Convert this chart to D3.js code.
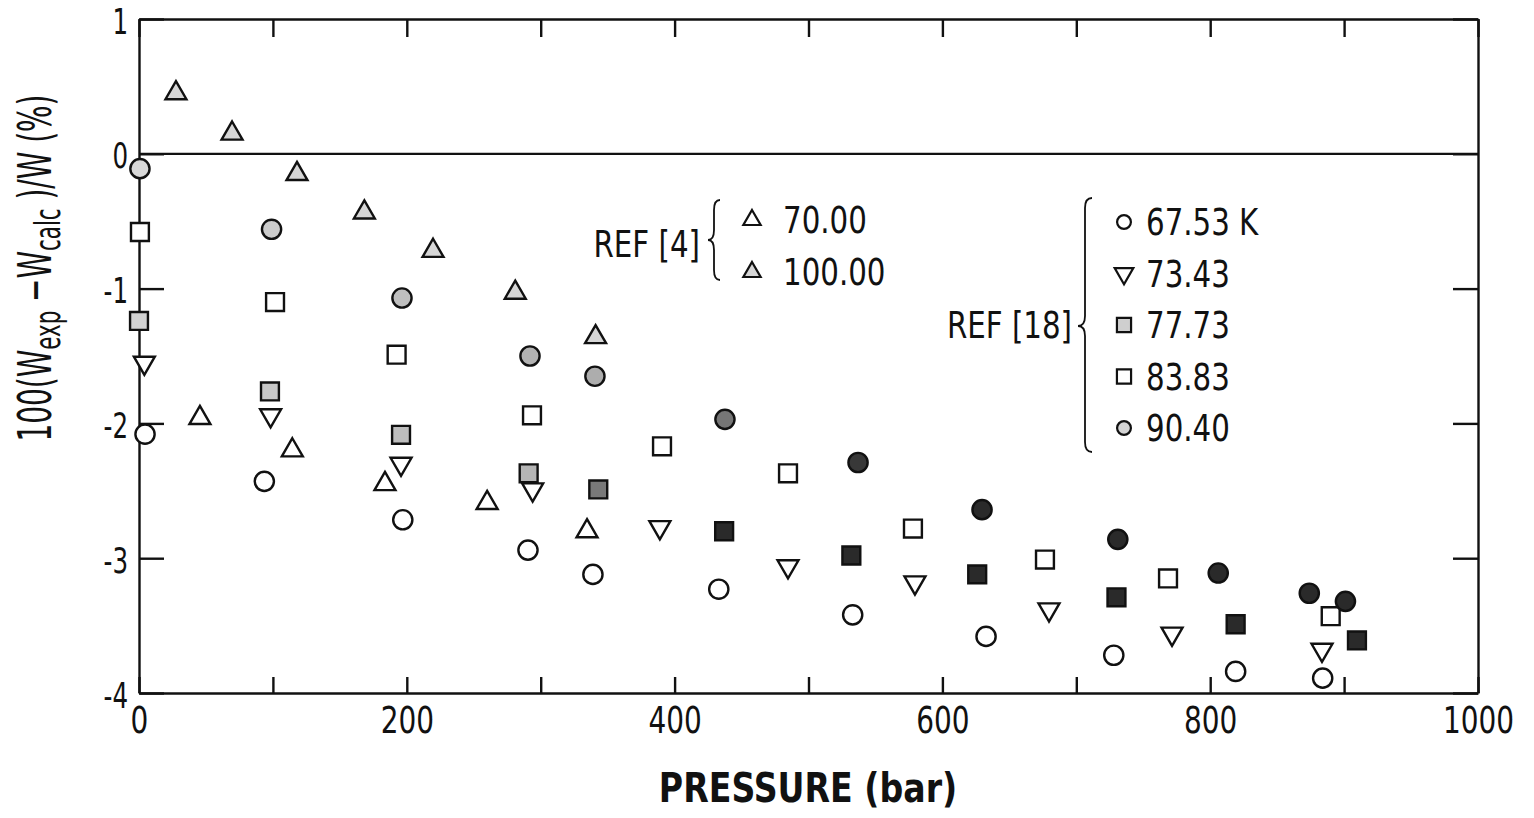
<!DOCTYPE html>
<html>
<head>
<meta charset="utf-8">
<script src="https://cdn.jsdelivr.net/npm/d3@7"></script>
<style>
  body { margin: 0; background: #fff; }
  text { font-family: "Liberation Sans Narrow", "DejaVu Sans Condensed", "Arial Narrow", sans-serif; fill: #111; }
</style>
</head>
<body>
<div id="chart"></div>
<script>
// Values: [pressure (bar), 100(Wexp - Wcalc)/W (%)]
const ref4_70 = [[45.5, -1.96], [114.5, -2.20], [183.7, -2.45], [260, -2.59], [334.6, -2.80]];
const ref4_100 = [[27.6, 0.45], [69.5, 0.15], [118, -0.15], [168.3, -0.435], [219.6, -0.72], [281, -1.03], [341, -1.36]];
const ref18_6753 = [[4.5, -2.08], [93.6, -2.43], [197, -2.715], [290.5, -2.94], [339, -3.12], [433, -3.23],
                    [533, -3.42], [632.6, -3.58], [728, -3.72], [819, -3.84], [884, -3.89]];
const ref18_7343 = [[4, -1.55], [98.3, -1.94], [195.7, -2.30], [294, -2.49], [389, -2.77], [484.7, -3.06],
                    [579.5, -3.18], [679.6, -3.38], [771.5, -3.56], [883.5, -3.68]];
const ref18_7773 = [[0, -1.24], [97.8, -1.763], [195.7, -2.085], [291, -2.37], [343, -2.49], [437, -2.80],
                    [532, -2.98], [626, -3.12], [730, -3.29], [819, -3.49], [909.6, -3.61]];
const ref18_8383 = [[0.7, -0.58], [101.6, -1.10], [192.4, -1.49], [293.5, -1.94], [390.6, -2.17], [484.7, -2.37],
                    [578, -2.78], [676.6, -3.01], [768.5, -3.15], [890, -3.43]];
const ref18_9040 = [[0.7, -0.11], [99, -0.56], [196.4, -1.07], [292, -1.50], [340.5, -1.65], [437.6, -1.97],
                    [537, -2.29], [629.6, -2.64], [731, -2.86], [806, -3.11], [874, -3.26], [901, -3.32]];

const ref4Labels = ["70.00", "100.00"];
const ref18Labels = ["67.53 K", "73.43", "77.73", "83.83", "90.40"];

const xMinorTicks = [0, 100, 200, 300, 400, 500, 600, 700, 800, 900, 1000];
const xTickLabels = [0, 200, 400, 600, 800, 1000];
const yTicks = [1, 0, -1, -2, -3, -4];

const W = 1534, H = 818;
const margin = {left: 139, right: 1478, top: 19, bottom: 693};

const svg = d3.select("#chart").append("svg")
    .attr("width", W)
    .attr("height", H);

const x = d3.scaleLinear().domain([0, 1000]).range([margin.left, margin.right]);
const y = d3.scaleLinear().domain([-4, 1]).range([margin.bottom, margin.top]);

const ink = "#111";

// the original uses a very narrow typeface, so texts are squeezed sideways
function narrowText(px, py, k, size) {
  return svg.append("text")
    .attr("transform", `translate(${px},${py}) scale(${k},1)`)
    .style("font-size", size + "px");
}

// axes with inward ticks
const xAxis = svg.append("g")
    .attr("transform", `translate(0,${margin.bottom})`)
    .call(d3.axisBottom(x)
        .tickValues(xMinorTicks)
        .tickFormat(d => xTickLabels.includes(d) ? d : "")
        .tickSizeInner(-16)
        .tickSizeOuter(0)
        .tickPadding(14));
xAxis.selectAll("text")
    .style("font-size", "37px")
    .attr("transform", "scale(0.84,1)");

svg.append("g")
    .attr("transform", `translate(0,${margin.top})`)
    .call(d3.axisTop(x).tickValues(xMinorTicks).tickFormat("").tickSizeInner(-18).tickSizeOuter(0));

const yK = 0.78;
const yAxis = svg.append("g")
    .attr("transform", `translate(${margin.left},0)`)
    .call(d3.axisLeft(y)
        .tickValues(yTicks)
        .tickFormat(d => d)
        .tickSizeInner(-25)
        .tickSizeOuter(0));
yAxis.selectAll("text")
    .style("font-size", "35px")
    .attr("dy", "0.4em")
    .attr("x", -11 / yK)
    .attr("transform", `scale(${yK},1)`);

svg.append("g")
    .attr("transform", `translate(${margin.right},0)`)
    .call(d3.axisRight(y).tickValues(yTicks).tickFormat("").tickSizeInner(-25).tickSizeOuter(0));

svg.selectAll(".domain, .tick line")
    .attr("stroke", ink)
    .attr("stroke-width", 2.4);

// zero line
svg.append("line")
    .attr("x1", x(0)).attr("x2", x(1000))
    .attr("y1", y(0)).attr("y2", y(0))
    .attr("stroke", ink)
    .attr("stroke-width", 2.2);

// axis titles
narrowText(808, 802, 0.9, 41)
    .attr("text-anchor", "middle")
    .style("font-weight", "bold")
    .text("PRESSURE (bar)");

const yTitle = svg.append("text")
    .attr("transform", "translate(51,268) rotate(-90) scale(0.66,1)")
    .attr("text-anchor", "middle")
    .style("font-size", "47px");
yTitle.append("tspan").text("100(W");
yTitle.append("tspan").attr("dy", 9).style("font-size", "36px").text("exp");
yTitle.append("tspan").attr("dy", -9).text(" \u2212W");
yTitle.append("tspan").attr("dy", 9).style("font-size", "36px").text("calc");
yTitle.append("tspan").attr("dy", -9).text(" )/W (%)");

// shading of the stippled symbols darkens with pressure
const squareShade = d3.scaleLinear()
    .domain([0, 300, 400])
    .range(["#d2d2d2", "#b4b4b4", "#2a2a2a"])
    .clamp(true);
const circleShade = d3.scaleLinear()
    .domain([0, 350, 560])
    .range(["#d8d8d8", "#acacac", "#2a2a2a"])
    .clamp(true);

const shapes = {
  circle: d3.symbolCircle,
  square: d3.symbolSquare,
  triangle: d3.symbolTriangle,
  down: d3.symbolTriangle
};

function drawSeries(data, shape, size, fill) {
  svg.append("g").selectAll("path")
    .data(data)
    .join("path")
    .attr("d", d3.symbol().type(shapes[shape]).size(size))
    .attr("transform", d => `translate(${x(d[0])},${y(d[1])})` + (shape === "down" ? " rotate(180)" : ""))
    .attr("fill", fill)
    .attr("stroke", ink)
    .attr("stroke-width", 2.4);
}

drawSeries(ref4_70, "triangle", 190, "#fff");
drawSeries(ref4_100, "triangle", 190, "#d6d6d6");
drawSeries(ref18_6753, "circle", 290, "#fff");
drawSeries(ref18_7343, "down", 190, "#fff");
drawSeries(ref18_7773, "square", 320, d => squareShade(d[0]));
drawSeries(ref18_8383, "square", 320, "#fff");
drawSeries(ref18_9040, "circle", 290, d => circleShade(d[0]));

// legends with braces
function brace(bx, y1, y2, ym, w) {
  const r = 10;
  return `M${bx},${y1} Q${bx - w / 2},${y1} ${bx - w / 2},${y1 + r}` +
         ` L${bx - w / 2},${ym - r} Q${bx - w / 2},${ym} ${bx - w},${ym}` +
         ` Q${bx - w / 2},${ym} ${bx - w / 2},${ym + r}` +
         ` L${bx - w / 2},${y2 - r} Q${bx - w / 2},${y2} ${bx},${y2}`;
}

function legendSym(cx, cy, shape, size, fill) {
  svg.append("path")
    .attr("d", d3.symbol().type(shapes[shape]).size(size))
    .attr("transform", `translate(${cx},${cy})` + (shape === "down" ? " rotate(180)" : ""))
    .attr("fill", fill)
    .attr("stroke", ink)
    .attr("stroke-width", 2.2);
}

const legK = 0.88;

// REF [4]
narrowText(700, 257, legK, 37).attr("text-anchor", "end").text("REF [4]");
svg.append("path").attr("d", brace(720, 200, 280, 240, 12))
  .attr("fill", "none").attr("stroke", ink).attr("stroke-width", 1.8);
const ref4Sym = [["triangle", "#fff"], ["triangle", "#d6d6d6"]];
ref4Labels.forEach((lab, i) => {
  const cy = 220 + i * 52;
  legendSym(752, cy, ref4Sym[i][0], 130, ref4Sym[i][1]);
  narrowText(783, cy + 13, legK, 37).text(lab);
});

// REF [18]
narrowText(1072, 338, legK, 37).attr("text-anchor", "end").text("REF [18]");
svg.append("path").attr("d", brace(1092, 198, 452, 326, 14))
  .attr("fill", "none").attr("stroke", ink).attr("stroke-width", 1.8);
const ref18Sym = [["circle", "#fff"], ["down", "#fff"], ["square", "#cfcfcf"], ["square", "#fff"], ["circle", "#d4d4d4"]];
ref18Labels.forEach((lab, i) => {
  const cy = 222 + i * 51.5;
  legendSym(1124, cy, ref18Sym[i][0], ref18Sym[i][0] === "square" ? 200 : 150, ref18Sym[i][1]);
  narrowText(1146, cy + 13, legK, 37).text(lab);
});
</script>
</body>
</html>
